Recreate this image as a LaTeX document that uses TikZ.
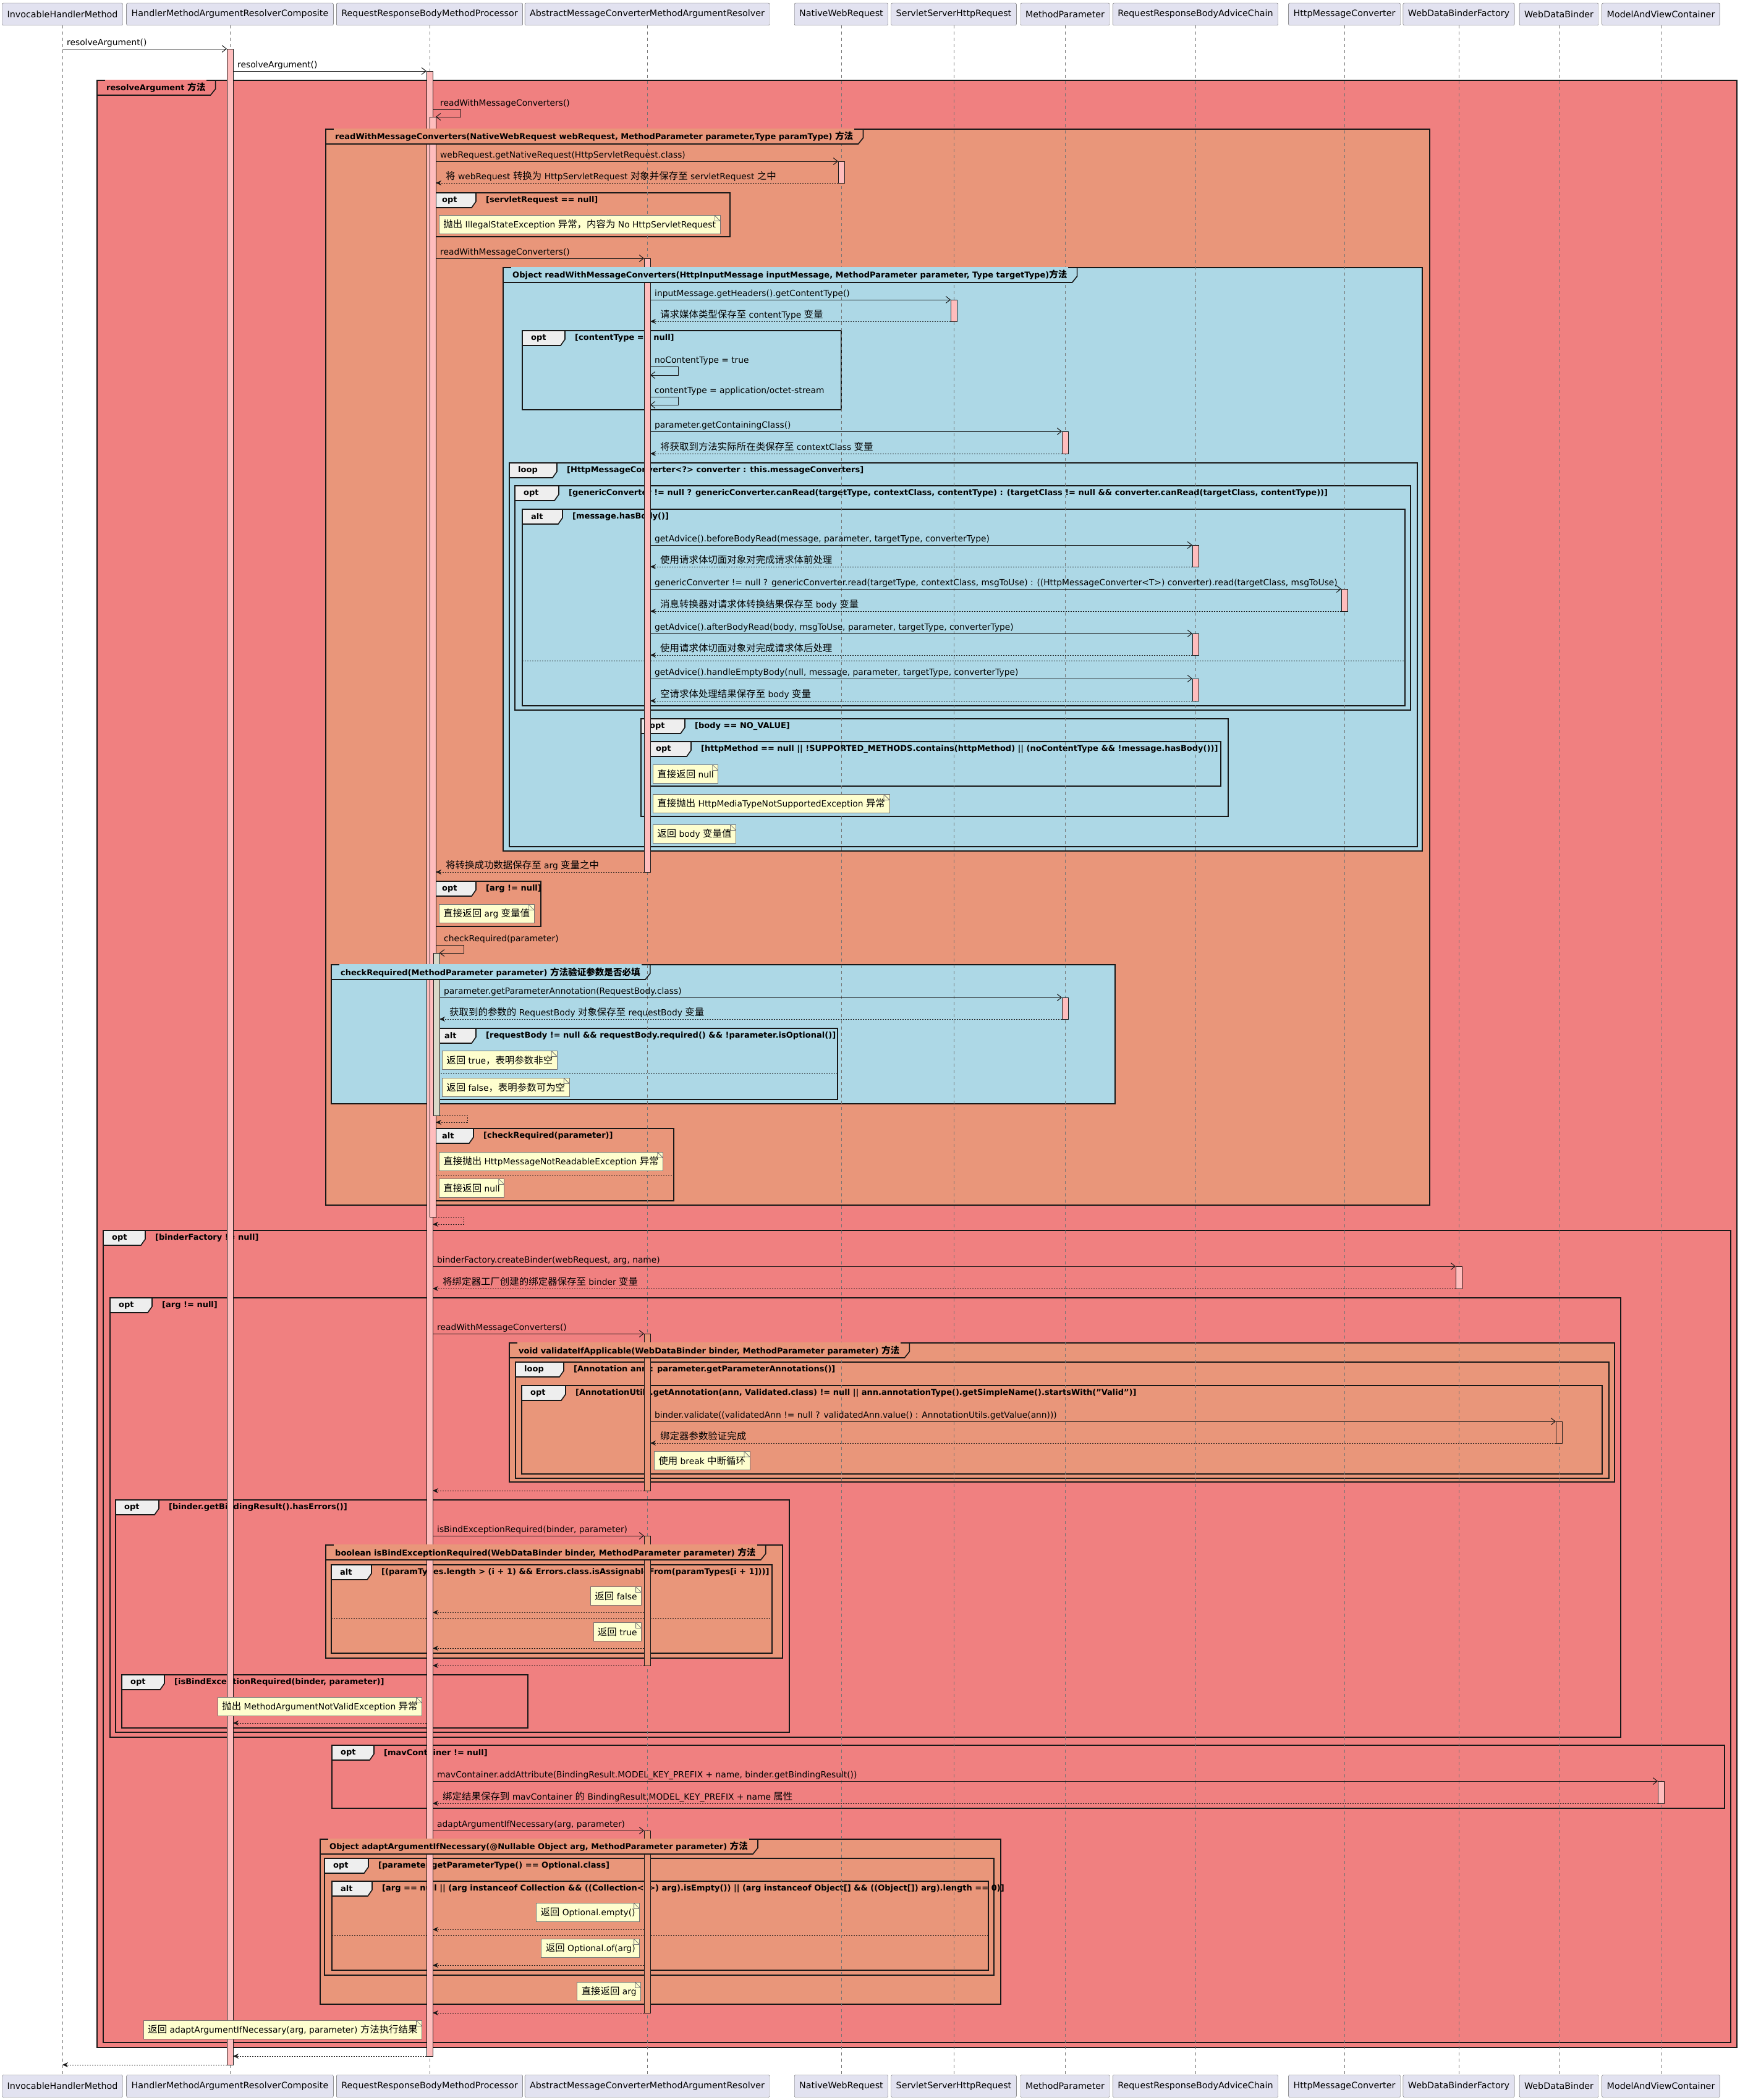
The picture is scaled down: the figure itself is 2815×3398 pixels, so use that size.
\documentclass[tikz,border=0pt]{standalone}
\usepackage{fontspec}
\setmainfont{DejaVu Sans}
\newfontfamily\zhfont{Noto Sans CJK SC}[Scale=1.12]
\usetikzlibrary{arrows.meta}

\definecolor{coral}{HTML}{F08080}
\definecolor{dsalmon}{HTML}{E9967A}
\definecolor{lblue}{HTML}{ADD8E6}
\definecolor{partfill}{HTML}{E2E2F0}
\definecolor{notefill}{HTML}{FEFECE}
\definecolor{actpink}{HTML}{FFBDBD}
\definecolor{actgrey}{HTML}{D9D9C9}
\definecolor{tabfill}{HTML}{EEEEEE}
\definecolor{ink}{HTML}{181818}

\newcommand\zh[1]{{\zhfont #1}}

\tikzset{
  partbox/.style={draw=ink!70, fill=partfill, rounded corners=2pt, minimum height=36pt,
    inner xsep=8pt, font=\fontsize{14.3}{16}\selectfont},
  life/.style={draw=ink!60, line width=0.8pt, dash pattern=on 5pt off 5pt},
  actline/.style={draw=ink, line width=0.8pt},
  callarr/.style={draw=ink, line width=1pt, -{Straight Barb[length=7pt,width=11pt]}},
  retarr/.style={draw=ink, line width=1pt, dash pattern=on 2pt off 2pt, -{Stealth[length=9pt,width=8pt]}},
  lbl/.style={anchor=base west, inner sep=0pt},
  grpline/.style={draw=ink, line width=1.6pt},
  sepline/.style={draw=ink, line width=1pt, dash pattern=on 2pt off 2pt},
  grptitle/.style={anchor=west, inner xsep=2pt, inner ysep=5pt, font=\fontsize{13}{15}\selectfont\bfseries},
  fragkind/.style={anchor=west, inner sep=0pt, font=\fontsize{13}{15}\selectfont\bfseries},
  fragguard/.style={anchor=west, inner sep=0pt, font=\fontsize{13}{15}\selectfont\bfseries},
  notebox/.style={draw=ink!60, fill=notefill, line width=0.8pt, inner xsep=7pt, inner ysep=0pt,
    minimum height=30pt,
    path picture={\draw[ink!60, line width=0.8pt]
      ([xshift=-9pt]path picture bounding box.north east) --
      ([xshift=-9pt,yshift=-9pt]path picture bounding box.north east) --
      ([yshift=-9pt]path picture bounding box.north east) -- cycle;}},
}

% activation bar: lifeline, x offset, from y, to y, colour
\newcommand\actbar[5]{%
  \filldraw[actline, fill=#5] ([xshift=#2-5]#1 |- 0,-#3) rectangle ([xshift=#2+5]#1 |- 0,-#4);}
% call: name, y, from, dx, to, dx, label
\newcommand\msgcall[7]{%
  \draw[callarr] ([xshift=#4]#3 |- 0,-#2) -- ([xshift=#6]#5 |- 0,-#2);
  \node[lbl] (#1) at ([xshift=#4+7]#3 |- 0,-#2+6) {#7};}
% return with label
\newcommand\msgret[7]{%
  \draw[retarr] ([xshift=#4]#3 |- 0,-#2) -- ([xshift=#6]#5 |- 0,-#2);
  \node[lbl] (#1) at ([xshift=#6+16]#5 |- 0,-#2+6) {#7};}
% return without label
\newcommand\msgback[5]{%
  \draw[retarr] ([xshift=#3]#2 |- 0,-#1) -- ([xshift=#5]#4 |- 0,-#1);}
% self call: name, y out, y in, lifeline, dx out, dx in, label
\newcommand\msgself[7]{%
  \draw[callarr] ([xshift=#5]#4 |- 0,-#2) -- ++(45,0) |- ([xshift=#6]#4 |- 0,-#3);
  \node[lbl] (#1) at ([xshift=#6+7]#4 |- 0,-#2+6) {#7};}
\newcommand\selfback[5]{%
  \draw[retarr] ([xshift=#4]#3 |- 0,-#1) -- ++(45,0) |- ([xshift=#5]#3 |- 0,-#2);}
% named group body: L, T, R, B, colour
\newcommand\grp[5]{\filldraw[grpline, fill=#5] (#1,-#2) rectangle (#3,-#4);}
% named group tab: name, L, T, colour, title
\newcommand\grptab[5]{%
  \node[grptitle, fill=#4] (#1) at (#2+13,-#3-12) {#5};
  \draw[grpline] (#2,-#3-24) -- ([xshift=6pt]#1.east |- 0,-#3-24)
    -- ([xshift=14pt]#1.east |- 0,-#3-14) -- ([xshift=14pt]#1.east |- 0,-#3);}
% fragment: name, L, T, R, B, kind, tab width, guard
\newcommand\frag[8]{%
  \draw[grpline] (#2,-#3) rectangle (#4,-#5);
  \filldraw[grpline, fill=tabfill] (#2,-#3) -- (#2+#7,-#3) -- (#2+#7,-#3-14)
    -- (#2+#7-7,-#3-24) -- (#2,-#3-24) -- cycle;
  \node[fragkind] (#1) at (#2+14,-#3-12) {#6};
  \node[fragguard] (#1g) at (#2+#7+16,-#3-12) {[#8]};}
\newcommand\fragsep[3]{\draw[sepline] (#1,-#3) -- (#2,-#3);}
% note: name, anchor, x, y, text
\newcommand\sqnote[5]{\node[notebox, anchor=#2] (#1) at (#3,-#4) {#5};}

\begin{document}
\begin{tikzpicture}[x=1pt, y=1pt, font=\fontsize{13.8}{16}\selectfont]
\useasboundingbox (0,0) rectangle (2815,-3398);

% participants, top and bottom
\foreach \nm/\xx/\txt in {ihm/101/InvocableHandlerMethod,
    hmarc/372/HandlerMethodArgumentResolverComposite,
    rrbmp/695/RequestResponseBodyMethodProcessor,
    amcmar/1047/AbstractMessageConverterMethodArgumentResolver,
    nwr/1361/NativeWebRequest, sshr/1543/ServletServerHttpRequest,
    mp/1723/MethodParameter, rrbac/1934/RequestResponseBodyAdviceChain,
    hmc/2175/HttpMessageConverter, wdbf/2360/WebDataBinderFactory,
    wdb/2522/WebDataBinder, mavc/2687/ModelAndViewContainer}{
  \node[partbox] (\nm) at (\xx,-23) {\txt};
  \node[partbox] (\nm-end) at (\xx,-3375.5) {\txt};
}

% groups and fragments
\grp{157}{130}{2810}{3313}{coral}
\grp{527}{209}{2313}{1950}{dsalmon}
\frag{f1}{701}{312}{1181}{383}{opt}{69}{servletRequest == null}
\grp{814}{433}{2301}{1377}{lblue}
\frag{f2}{845}{535}{1361}{663}{opt}{69}{contentType == null}
\frag{f3}{824}{749}{2293}{1370}{loop}{77}{HttpMessageConverter<?> converter : this.messageConverters}
\frag{f4}{833}{786}{2282}{1149}{opt}{71}{genericConverter != null ? genericConverter.canRead(targetType, contextClass, contentType) : (targetClass != null \&\& converter.canRead(targetClass, contentType))}
\frag{f5}{845}{824}{2273}{1142}{alt}{65}{message.hasBody()}
\fragsep{845}{2273}{1069}
\frag{f6}{1037}{1163}{1987}{1321}{opt}{71}{body == NO\_VALUE}
\frag{f7}{1047}{1200}{1975}{1272}{opt}{71}{httpMethod == null || !SUPPORTED\_METHODS.contains(httpMethod) || (noContentType \&\& !message.hasBody())}
\frag{f8}{701}{1426}{875}{1499}{opt}{69}{arg != null}
\grp{536}{1561}{1804}{1786}{lblue}
\frag{f9}{705}{1664}{1355}{1779}{alt}{65}{requestBody != null \&\& requestBody.required() \&\& !parameter.isOptional()}
\fragsep{705}{1355}{1737}
\frag{f10}{701}{1826}{1090}{1943}{alt}{65}{checkRequired(parameter)}
\fragsep{701}{1090}{1901}
\frag{f11}{167}{1991}{2800}{3305}{opt}{68}{binderFactory != null}
\frag{f12}{178}{2100}{2622}{2811}{opt}{68}{arg != null}
\grp{824}{2173}{2612}{2398}{dsalmon}
\frag{f13}{834}{2204}{2603}{2392}{loop}{78}{Annotation ann : parameter.getParameterAnnotations()}
\frag{f14}{844}{2242}{2592}{2385}{opt}{71}{AnnotationUtils.getAnnotation(ann, Validated.class) != null || ann.annotationType().getSimpleName().startsWith("Valid")}
\frag{f15}{187}{2427}{1277}{2803}{opt}{70}{binder.getBindingResult().hasErrors()}
\grp{527}{2500}{1266}{2683}{dsalmon}
\frag{f16}{536}{2532}{1249}{2675}{alt}{65}{(paramTypes.length > (i + 1) \&\& Errors.class.isAssignableFrom(paramTypes[i + 1]))}
\fragsep{536}{1249}{2618}
\frag{f17}{197}{2710}{854}{2796}{opt}{69}{isBindExceptionRequired(binder, parameter)}
\frag{f18}{537}{2824}{2790}{2926}{opt}{68}{mavContainer != null}
\grp{518}{2976}{1619}{3243}{dsalmon}
\frag{f19}{525}{3007}{1608}{3196}{opt}{71}{parameter.getParameterType() == Optional.class}
\frag{f20}{537}{3044}{1599}{3188}{alt}{65}{arg == null || (arg instanceof Collection \&\& ((Collection<?>) arg).isEmpty()) || (arg instanceof Object[] \&\& ((Object[]) arg).length == 0)}
\fragsep{537}{1599}{3131}

% lifelines
\foreach \nm in {ihm,hmarc,rrbmp,amcmar,nwr,sshr,mp,rrbac,hmc,wdbf,wdb,mavc}
  \draw[life] (\nm.south) -- (\nm-end.north);

% activations
\actbar{hmarc}{0}{79}{3341}{actpink}
\actbar{rrbmp}{0}{115}{3327}{actpink}
\actbar{rrbmp}{5}{189}{1969}{actpink}
\actbar{rrbmp}{11}{1542}{1805}{actgrey}
\actbar{nwr}{0}{261}{296}{actpink}
\actbar{amcmar}{0}{418}{1411}{actpink}
\actbar{sshr}{0}{485}{520}{actpink}
\actbar{mp}{0}{698}{734}{actpink}
\actbar{rrbac}{0}{882}{917}{actpink}
\actbar{hmc}{0}{953}{989}{actpink}
\actbar{rrbac}{0}{1025}{1060}{actpink}
\actbar{rrbac}{0}{1098}{1134}{actpink}
\actbar{mp}{0}{1614}{1649}{actpink}
\actbar{wdbf}{0}{2049}{2085}{actpink}
\actbar{amcmar}{0}{2158}{2412}{dsalmon}
\actbar{wdb}{0}{2300}{2335}{dsalmon}
\actbar{amcmar}{0}{2485}{2695}{dsalmon}
\actbar{mavc}{0}{2882}{2918}{actpink}
\actbar{amcmar}{0}{2962}{3257}{dsalmon}

% group headers sit over the lifelines
\grptab{g1}{157}{130}{coral}{resolveArgument \zh{方法}}
\grptab{g2}{527}{209}{dsalmon}{readWithMessageConverters(NativeWebRequest webRequest, MethodParameter parameter,Type paramType) \zh{方法}}
\grptab{g3}{814}{433}{lblue}{Object readWithMessageConverters(HttpInputMessage inputMessage, MethodParameter parameter, Type targetType)\zh{方法}}
\grptab{g4}{536}{1561}{lblue}{checkRequired(MethodParameter parameter) \zh{方法验证参数是否必填}}
\grptab{g5}{824}{2173}{dsalmon}{void validateIfApplicable(WebDataBinder binder, MethodParameter parameter) \zh{方法}}
\grptab{g6}{527}{2500}{dsalmon}{boolean isBindExceptionRequired(WebDataBinder binder, MethodParameter parameter) \zh{方法}}
\grptab{g7}{518}{2976}{dsalmon}{Object adaptArgumentIfNecessary(@Nullable Object arg, MethodParameter parameter) \zh{方法}}

% messages
\msgcall{m1}{79}{ihm}{0}{hmarc}{-5}{resolveArgument()}
\msgcall{m2}{115}{hmarc}{5}{rrbmp}{-5}{resolveArgument()}
\msgself{m3}{177}{189}{rrbmp}{5}{10}{readWithMessageConverters()}
\msgcall{m4}{261}{rrbmp}{10}{nwr}{-5}{webRequest.getNativeRequest(HttpServletRequest.class)}
\msgret{m5}{296}{nwr}{-5}{rrbmp}{10}{\zh{将} webRequest \zh{转换为} HttpServletRequest \zh{对象并保存至} servletRequest \zh{之中}}
\msgcall{m6}{418}{rrbmp}{10}{amcmar}{-5}{readWithMessageConverters()}
\msgcall{m7}{485}{amcmar}{5}{sshr}{-5}{inputMessage.getHeaders().getContentType()}
\msgret{m8}{520}{sshr}{-5}{amcmar}{5}{\zh{请求媒体类型保存至} contentType \zh{变量}}
\msgself{m9}{593}{607}{amcmar}{5}{5}{noContentType = true}
\msgself{m10}{642}{655}{amcmar}{5}{5}{contentType = application/octet-stream}
\msgcall{m11}{698}{amcmar}{5}{mp}{-5}{parameter.getContainingClass()}
\msgret{m12}{734}{mp}{-5}{amcmar}{5}{\zh{将获取到方法实际所在类保存至} contextClass \zh{变量}}
\msgcall{m13}{882}{amcmar}{5}{rrbac}{-5}{getAdvice().beforeBodyRead(message, parameter, targetType, converterType)}
\msgret{m14}{917}{rrbac}{-5}{amcmar}{5}{\zh{使用请求体切面对象对完成请求体前处理}}
\msgcall{m15}{953}{amcmar}{5}{hmc}{-5}{genericConverter != null ? genericConverter.read(targetType, contextClass, msgToUse) : ((HttpMessageConverter<T>) converter).read(targetClass, msgToUse)}
\msgret{m16}{989}{hmc}{-5}{amcmar}{5}{\zh{消息转换器对请求体转换结果保存至} body \zh{变量}}
\msgcall{m17}{1025}{amcmar}{5}{rrbac}{-5}{getAdvice().afterBodyRead(body, msgToUse, parameter, targetType, converterType)}
\msgret{m18}{1060}{rrbac}{-5}{amcmar}{5}{\zh{使用请求体切面对象对完成请求体后处理}}
\msgcall{m19}{1098}{amcmar}{5}{rrbac}{-5}{getAdvice().handleEmptyBody(null, message, parameter, targetType, converterType)}
\msgret{m20}{1134}{rrbac}{-5}{amcmar}{5}{\zh{空请求体处理结果保存至} body \zh{变量}}
\msgret{m21}{1411}{amcmar}{-5}{rrbmp}{10}{\zh{将转换成功数据保存至} arg \zh{变量之中}}
\msgself{m22}{1529}{1542}{rrbmp}{10}{16}{checkRequired(parameter)}
\msgcall{m23}{1614}{rrbmp}{16}{mp}{-5}{parameter.getParameterAnnotation(RequestBody.class)}
\msgret{m24}{1649}{mp}{-5}{rrbmp}{16}{\zh{获取到的参数的} RequestBody \zh{对象保存至} requestBody \zh{变量}}
\selfback{1805}{1816}{rrbmp}{16}{10}
\selfback{1969}{1981}{rrbmp}{10}{5}
\msgcall{m25}{2049}{rrbmp}{5}{wdbf}{-5}{binderFactory.createBinder(webRequest, arg, name)}
\msgret{m26}{2085}{wdbf}{-5}{rrbmp}{5}{\zh{将绑定器工厂创建的绑定器保存至} binder \zh{变量}}
\msgcall{m27}{2158}{rrbmp}{5}{amcmar}{-5}{readWithMessageConverters()}
\msgcall{m28}{2300}{amcmar}{5}{wdb}{-5}{binder.validate((validatedAnn != null ? validatedAnn.value() : AnnotationUtils.getValue(ann)))}
\msgret{m29}{2335}{wdb}{-5}{amcmar}{5}{\zh{绑定器参数验证完成}}
\msgback{2412}{amcmar}{-5}{rrbmp}{5}
\msgcall{m30}{2485}{rrbmp}{5}{amcmar}{-5}{isBindExceptionRequired(binder, parameter)}
\msgback{2609}{amcmar}{-5}{rrbmp}{5}
\msgback{2667}{amcmar}{-5}{rrbmp}{5}
\msgback{2695}{amcmar}{-5}{rrbmp}{5}
\msgback{2788}{rrbmp}{-5}{hmarc}{5}
\msgcall{m31}{2882}{rrbmp}{5}{mavc}{-5}{mavContainer.addAttribute(BindingResult.MODEL\_KEY\_PREFIX + name, binder.getBindingResult())}
\msgret{m32}{2918}{mavc}{-5}{rrbmp}{5}{\zh{绑定结果保存到} mavContainer \zh{的} BindingResult.MODEL\_KEY\_PREFIX + name \zh{属性}}
\msgcall{m33}{2962}{rrbmp}{5}{amcmar}{-5}{adaptArgumentIfNecessary(arg, parameter)}
\msgback{3122}{amcmar}{-5}{rrbmp}{5}
\msgback{3180}{amcmar}{-5}{rrbmp}{5}
\msgback{3257}{amcmar}{-5}{rrbmp}{5}
\msgback{3327}{rrbmp}{-5}{hmarc}{5}
\msgback{3341}{hmarc}{-5}{ihm}{0}

% notes
\sqnote{n1}{north west}{710}{348}{\zh{抛出} IllegalStateException \zh{异常，内容为} No HttpServletRequest}
\sqnote{n2}{north west}{1056}{1237}{\zh{直接返回} null}
\sqnote{n3}{north west}{1056}{1285}{\zh{直接抛出} HttpMediaTypeNotSupportedException \zh{异常}}
\sqnote{n4}{north west}{1056}{1334}{\zh{返回} body \zh{变量值}}
\sqnote{n5}{north west}{710}{1463}{\zh{直接返回} arg \zh{变量值}}
\sqnote{n6}{north west}{715}{1700}{\zh{返回} true\zh{，表明参数非空}}
\sqnote{n7}{north west}{715}{1744}{\zh{返回} false\zh{，表明参数可为空}}
\sqnote{n8}{north west}{710}{1864}{\zh{直接抛出} HttpMessageNotReadableException \zh{异常}}
\sqnote{n9}{north west}{710}{1907}{\zh{直接返回} null}
\sqnote{n10}{north west}{1058}{2348}{\zh{使用} break \zh{中断循环}}
\sqnote{n11}{north east}{1038}{2567}{\zh{返回} false}
\sqnote{n12}{north east}{1038}{2625}{\zh{返回} true}
\sqnote{n13}{north east}{683}{2746}{\zh{抛出} MethodArgumentNotValidException \zh{异常}}
\sqnote{n14}{north east}{1035}{3079}{\zh{返回} Optional.empty()}
\sqnote{n15}{north east}{1035}{3137}{\zh{返回} Optional.of(arg)}
\sqnote{n16}{north east}{1037}{3207}{\zh{直接返回} arg}
\sqnote{n17}{north east}{683}{3269}{\zh{返回} adaptArgumentIfNecessary(arg, parameter) \zh{方法执行结果}}
\end{tikzpicture}
\end{document}
